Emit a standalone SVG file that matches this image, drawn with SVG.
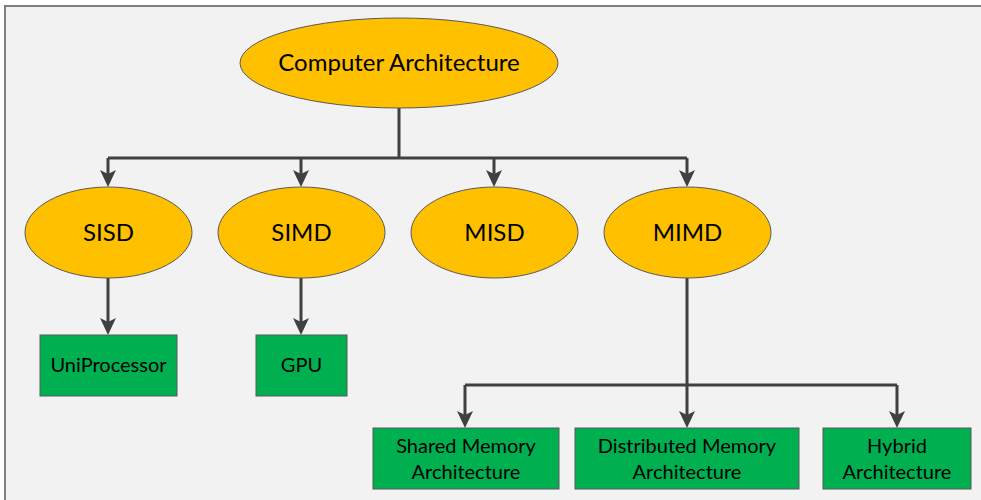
<svg xmlns="http://www.w3.org/2000/svg" width="981" height="500" viewBox="0 0 981 500">
<defs>
<marker id="ah" viewBox="0 0 17 16" refX="7" refY="8" markerWidth="17" markerHeight="16" markerUnits="userSpaceOnUse" orient="auto">
<path d="M0,0 L17,8 L0,16 L4,8 Z" fill="#404040"/>
</marker>
<style>
.bg{fill:#f2f2f2;stroke:#7f7f7f;stroke-width:2}
.ell{fill:#ffc000;stroke:#595959;stroke-width:1}
.box{fill:#00b050;stroke:#595959;stroke-width:1}
.con{fill:none;stroke:#404040;stroke-width:3}
.arr{fill:none;stroke:#404040;stroke-width:3}
text{font-family:Lato,"Open Sans","Liberation Sans",sans-serif;fill:#000;text-anchor:middle}
.big{font-size:24px}
.sm{font-size:20px}
</style>
</defs>
<rect class="bg" x="5" y="6" width="1000" height="600"/>
<g id="connectors">
<path class="con" d="M399,108 V158"/>
<path class="con" d="M108,158 H687"/>
<path class="arr" d="M108,158 V177" marker-end="url(#ah)"/>
<path class="arr" d="M301,158 V177" marker-end="url(#ah)"/>
<path class="arr" d="M494,158 V177" marker-end="url(#ah)"/>
<path class="arr" d="M687,158 V177" marker-end="url(#ah)"/>
<path class="arr" d="M108,278 V325" marker-end="url(#ah)"/>
<path class="arr" d="M301,278 V325" marker-end="url(#ah)"/>
<path class="con" d="M687,278 V385"/>
<path class="con" d="M465,385 H897"/>
<path class="arr" d="M465,385 V418" marker-end="url(#ah)"/>
<path class="arr" d="M687,385 V418" marker-end="url(#ah)"/>
<path class="arr" d="M897,385 V418" marker-end="url(#ah)"/>
</g>
<g id="computer-architecture">
<ellipse class="ell" cx="399" cy="63" rx="159" ry="45"/>
<text class="big" x="399" y="71">Computer Architecture</text>
</g>
<g id="sisd">
<ellipse class="ell" cx="108.5" cy="232.5" rx="83.5" ry="45.5"/>
<text class="big" x="108.5" y="241">SISD</text>
</g>
<g id="simd">
<ellipse class="ell" cx="301.5" cy="232.5" rx="83.5" ry="45.5"/>
<text class="big" x="301.5" y="241">SIMD</text>
</g>
<g id="misd">
<ellipse class="ell" cx="494.5" cy="232.5" rx="83.5" ry="45.5"/>
<text class="big" x="494.5" y="241">MISD</text>
</g>
<g id="mimd">
<ellipse class="ell" cx="687.5" cy="232.5" rx="83.5" ry="45.5"/>
<text class="big" x="687.5" y="241">MIMD</text>
</g>
<g id="uniprocessor">
<rect class="box" x="40" y="335" width="137" height="61"/>
<text class="sm" x="108.5" y="372">UniProcessor</text>
</g>
<g id="gpu">
<rect class="box" x="256" y="335" width="91" height="61"/>
<text class="sm" x="301.5" y="372">GPU</text>
</g>
<g id="shared-memory">
<rect class="box" x="373" y="428" width="186" height="61"/>
<text class="sm" x="466" y="453">Shared Memory</text>
<text class="sm" x="466" y="479">Architecture</text>
</g>
<g id="distributed-memory">
<rect class="box" x="575" y="428" width="224" height="61"/>
<text class="sm" x="687" y="453">Distributed Memory</text>
<text class="sm" x="687" y="479">Architecture</text>
</g>
<g id="hybrid">
<rect class="box" x="823" y="428" width="148" height="61"/>
<text class="sm" x="897" y="453">Hybrid</text>
<text class="sm" x="897" y="479">Architecture</text>
</g>
</svg>
